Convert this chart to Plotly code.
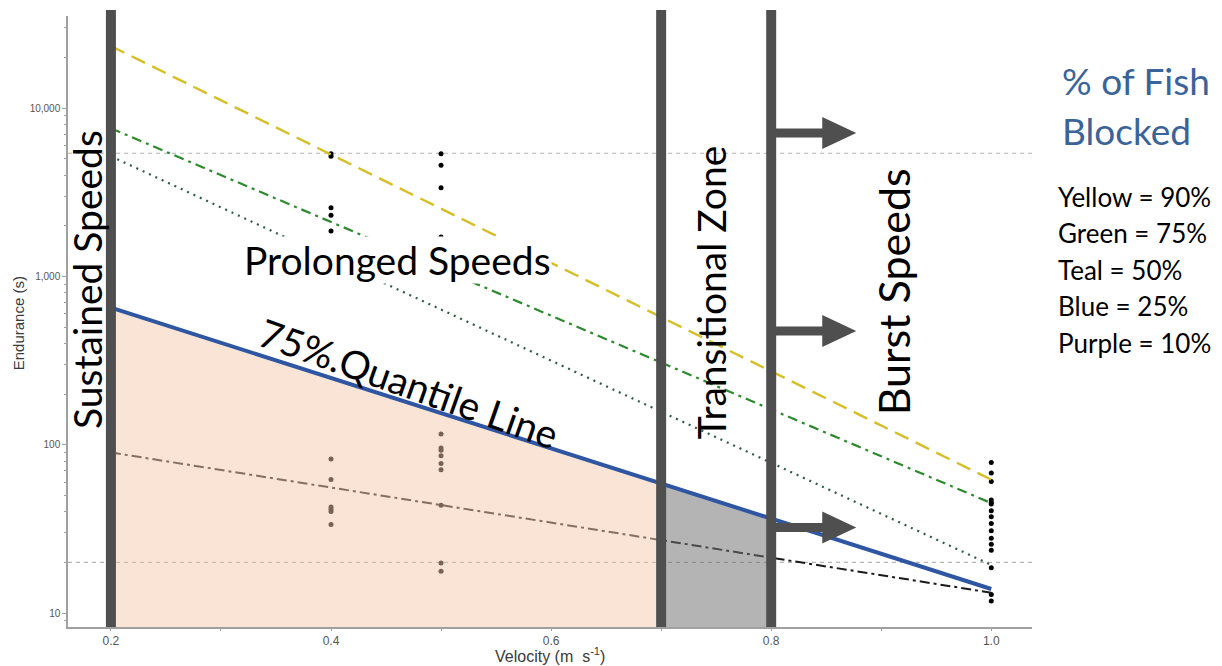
import plotly.graph_objects as go

# ---------------- data ----------------
line_velocity = [0.2, 1.0]
yellow_90 = [23400, 62]
green_75 = [7600, 45]
teal_50 = [5180, 19.3]
purple_10 = [90, 13.2]

quantile_velocity = [0.2, 0.7, 0.8, 1.0]
quantile_75 = [653, 58.5, 36.4, 13.9]

pts_v04 = [5370, 5180, 2565, 2310, 1862, 82.3, 62.1, 42.7, 41.4, 40.1, 33.6]
pts_v05 = [5370, 4580, 3370, 1714, 115.8, 95.6, 92.9, 86.0, 77.5, 71.0, 43.7, 19.8, 17.7]
pts_v10 = [78.5, 67.9, 60.5, 46.9, 45.4, 44.4, 40.5, 37.3, 34.0, 30.8, 27.8, 25.6,
           23.6, 18.6, 12.9, 11.8]

ref_endurance = [20, 5400]
zone_bounds = [0.2, 0.7, 0.8]

x_tickvals = [0.2, 0.4, 0.6, 0.8, 1.0]
x_ticktext = ["0.2", "0.4", "0.6", "0.8", "1.0"]
y_tickvals = [10, 100, 1000, 10000]
y_ticktext = ["10", "100", "1,000", "10,000"]

legend_title = ["% of Fish", "Blocked"]
legend_lines = ["Yellow = 90%", "Green = 75%", "Teal = 50%", "Blue = 25%", "Purple = 10%"]

# ---------------- layout constants ----------------
X_RANGE = [0.161, 1.037]
Y_RANGE = [0.917, 4.548]
TXT_FONT = "Lato"

fig = go.Figure()

# reference thresholds
for r in ref_endurance:
    fig.add_trace(go.Scatter(x=X_RANGE, y=[r, r], mode="lines",
                             line=dict(color="#b5b5b5", width=1.2, dash="4px,4px"),
                             hoverinfo="skip", showlegend=False))

# observation points
pv = [0.4] * len(pts_v04) + [0.5] * len(pts_v05) + [1.0] * len(pts_v10)
pe = pts_v04 + pts_v05 + pts_v10
fig.add_trace(go.Scatter(x=pv, y=pe, mode="markers",
                         marker=dict(color="black", size=5),
                         hoverinfo="skip", showlegend=False))

# 10% line (under fills)
fig.add_trace(go.Scatter(x=line_velocity, y=purple_10, mode="lines",
                         line=dict(color="#1a1a1a", width=2, dash="10px,4px,3px,4px"),
                         hoverinfo="skip", showlegend=False))

# fills under quantile line
fig.add_trace(go.Scatter(
    x=[quantile_velocity[0], quantile_velocity[0], quantile_velocity[1], quantile_velocity[1]],
    y=[1, quantile_75[0], quantile_75[1], 1],
    fill="toself", mode="none", fillcolor="rgba(245,200,171,0.49)",
    hoverinfo="skip", showlegend=False))
fig.add_trace(go.Scatter(
    x=[quantile_velocity[1], quantile_velocity[1], quantile_velocity[2], quantile_velocity[2]],
    y=[1, quantile_75[1], quantile_75[2], 1],
    fill="toself", mode="none", fillcolor="rgba(113,113,113,0.53)",
    hoverinfo="skip", showlegend=False))

# regression lines
fig.add_trace(go.Scatter(x=line_velocity, y=teal_50, mode="lines",
                         line=dict(color="#2f5a45", width=2.2, dash="2px,5px"),
                         hoverinfo="skip", showlegend=False))
fig.add_trace(go.Scatter(x=line_velocity, y=green_75, mode="lines",
                         line=dict(color="#2e8a2e", width=2.2, dash="10px,5px,3px,5px"),
                         hoverinfo="skip", showlegend=False))
fig.add_trace(go.Scatter(x=line_velocity, y=yellow_90, mode="lines",
                         line=dict(color="#d6bf26", width=2.4, dash="15px,8px"),
                         hoverinfo="skip", showlegend=False))
fig.add_trace(go.Scatter(x=quantile_velocity, y=quantile_75, mode="lines",
                         line=dict(color="#2f56a2", width=4),
                         hoverinfo="skip", showlegend=False))

# ---------------- shapes ----------------
BAR_COLOR = "#4f4f4f"
shapes = []
for b in zone_bounds:
    shapes.append(dict(type="line", xref="x", yref="paper", x0=b, x1=b, y0=0, y1=1.0098,
                       line=dict(color=BAR_COLOR, width=10), layer="above"))

arrow_y = [0.8085, 0.4845, 0.1628]
shaft_end = 0.8464
head_end = 0.8773
shaft_h = 0.0074
head_h = 0.0262
for ay in arrow_y:
    x0 = zone_bounds[2]
    path = (f"M {x0} {ay - shaft_h} L {shaft_end} {ay - shaft_h} L {shaft_end} {ay - head_h} "
            f"L {head_end} {ay} L {shaft_end} {ay + head_h} L {shaft_end} {ay + shaft_h} "
            f"L {x0} {ay + shaft_h} Z")
    shapes.append(dict(type="path", xref="x", yref="paper", path=path,
                       fillcolor=BAR_COLOR, line=dict(width=0), layer="above"))

# ---------------- annotations ----------------
ann = []
BIG = 39
ann.append(dict(text="Sustained Speeds", xref="paper", yref="paper", x=0.0197, y=0.5696,
                textangle=-90, showarrow=False, font=dict(family=TXT_FONT, size=BIG, color="black"),
                xanchor="center", yanchor="middle"))
ann.append(dict(text="Prolonged Speeds", xref="paper", yref="paper", x=0.3413, y=0.6007,
                showarrow=False, font=dict(family=TXT_FONT, size=BIG, color="black"),
                bgcolor="white", borderpad=0, xanchor="center", yanchor="middle"))
ann.append(dict(text="75%.Quantile Line", xref="paper", yref="paper", x=0.3537, y=0.3993,
                textangle=19.5, showarrow=False, font=dict(family=TXT_FONT, size=BIG, color="black"),
                xanchor="center", yanchor="middle"))
ann.append(dict(text="Transitional Zone", xref="paper", yref="paper", x=0.667, y=0.548,
                textangle=-90, showarrow=False, font=dict(family=TXT_FONT, size=BIG, color="black"),
                xanchor="center", yanchor="middle"))
ann.append(dict(text="Burst Speeds", xref="paper", yref="paper", x=0.856, y=0.548,
                textangle=-90, showarrow=False, font=dict(family=TXT_FONT, size=43, color="black"),
                bgcolor="white", borderpad=0, xanchor="center", yanchor="middle"))

title_y = [0.895, 0.813]
for t, yy in zip(legend_title, title_y):
    ann.append(dict(text=t, xref="paper", yref="paper", x=1.029, y=yy, showarrow=False,
                    font=dict(family=TXT_FONT, size=37, color="#3a639a"),
                    xanchor="left", yanchor="middle"))
leg_y0 = 0.7038
leg_step = 0.0597
for i, t in enumerate(legend_lines):
    ann.append(dict(text=t, xref="paper", yref="paper", x=1.025, y=leg_y0 - i * leg_step,
                    showarrow=False, font=dict(family=TXT_FONT, size=26, color="black"),
                    xanchor="left", yanchor="middle"))

ann.append(dict(text="Endurance (s)", xref="paper", yref="paper", x=-0.0519, y=0.497,
                textangle=-90, showarrow=False,
                font=dict(family="Liberation Sans", size=15, color="#3a3a3a"),
                xanchor="center", yanchor="middle"))
ann.append(dict(text="Velocity (m&nbsp; s<sup>-1</sup>)", xref="paper", yref="paper", x=0.5, y=-0.0458,
                showarrow=False, font=dict(family="Liberation Sans", size=16, color="#3a3a3a"),
                xanchor="center", yanchor="middle"))

y_minor = [m * 10 ** d for d in range(0, 5) for m in range(2, 10)]

fig.update_layout(
    width=1222, height=666,
    margin=dict(l=68, r=190, t=16, b=39),
    paper_bgcolor="white", plot_bgcolor="white",
    shapes=shapes, annotations=ann, showlegend=False,
    xaxis=dict(range=X_RANGE, tickvals=x_tickvals, ticktext=x_ticktext,
               showline=True, linecolor="#a0a0a0", linewidth=1.5, showgrid=False, zeroline=False,
               ticks="outside", ticklen=2, tickcolor="#a0a0a0",
               tickfont=dict(family="Liberation Sans", size=12, color="#555"),
               minor=dict(tickvals=[0.3, 0.5, 0.7, 0.9], ticks="outside", ticklen=2,
                          tickcolor="#a0a0a0")),
    yaxis=dict(type="log", range=Y_RANGE, tickvals=y_tickvals, ticktext=y_ticktext,
               showline=True, linecolor="#a0a0a0", linewidth=1.5, showgrid=False, zeroline=False,
               ticks="outside", ticklen=4, tickcolor="#a0a0a0",
               tickfont=dict(family="Liberation Sans", size=10, color="#555"),
               minor=dict(tickvals=y_minor, ticks="outside", ticklen=2, tickcolor="#a0a0a0")),
)

fig.write_html("out.html", include_plotlyjs=True, config={"displayModeBar": False},
               post_script="document.body.style.margin='0';document.body.style.overflow='hidden';")
